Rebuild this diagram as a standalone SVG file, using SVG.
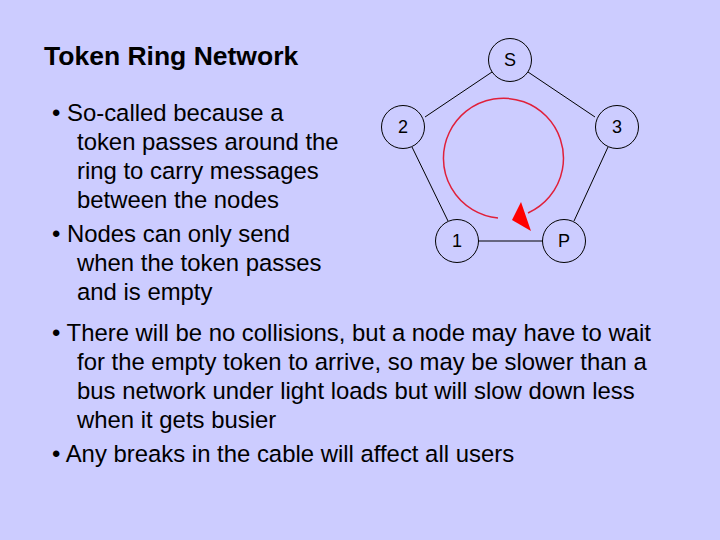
<svg xmlns="http://www.w3.org/2000/svg" width="720" height="540" viewBox="0 0 720 540">
<style>
.t{font-family:"Liberation Sans",Arial,sans-serif;fill:#000}
.b{font-size:23.9px}
.n circle{fill:none;stroke:#000;stroke-width:1}
.n text{font-family:"Liberation Sans",Arial,sans-serif;font-size:18px;text-anchor:middle}
.e line{stroke:#000;stroke-width:1}
</style>
<rect width="720" height="540" fill="#ccccff"/>
<text class="t" x="44" y="65" font-size="26.5" font-weight="bold" fill="#1a1a4d">Token Ring Network</text>
<g class="t b">
<text x="52" y="121">• So-called because a</text>
<text x="77" y="150">token passes around the</text>
<text x="77" y="179">ring to carry messages</text>
<text x="77" y="208">between the nodes</text>
<text x="52" y="242">• Nodes can only send</text>
<text x="77" y="271">when the token passes</text>
<text x="77" y="300">and is empty</text>
<text x="52" y="341">• There will be no collisions, but a node may have to wait</text>
<text x="77" y="370">for the empty token to arrive, so may be slower than a</text>
<text x="77" y="399">bus network under light loads but will slow down less</text>
<text x="77" y="428">when it gets busier</text>
<text x="52" y="462">• Any breaks in the cable will affect all users</text>
</g>
<g class="e" id="connectors">
<line x1="492" y1="72" x2="425" y2="117"/>
<line x1="528" y1="72" x2="595" y2="117"/>
<line x1="412" y1="147" x2="448" y2="221"/>
<line x1="608" y1="147" x2="574" y2="221"/>
<line x1="478" y1="241" x2="543" y2="241"/>
</g>
<g id="token">
<path d="M498,218 A60,60 0 1 1 528,213" fill="none" stroke="#e0203a" stroke-width="1.5"/>
<polygon points="512,220 521,202 531,231" fill="#ff0000"/>
</g>
<g class="n" id="S"><circle cx="510" cy="60" r="21.5"/><text x="510" y="66">S</text></g>
<g class="n" id="n2"><circle cx="403" cy="127" r="21.5"/><text x="403" y="133">2</text></g>
<g class="n" id="n3"><circle cx="617" cy="127" r="21.5"/><text x="617" y="133">3</text></g>
<g class="n" id="n1"><circle cx="457" cy="241" r="21.5"/><text x="457" y="247">1</text></g>
<g class="n" id="P"><circle cx="564" cy="241" r="21.5"/><text x="564" y="247">P</text></g>
</svg>
